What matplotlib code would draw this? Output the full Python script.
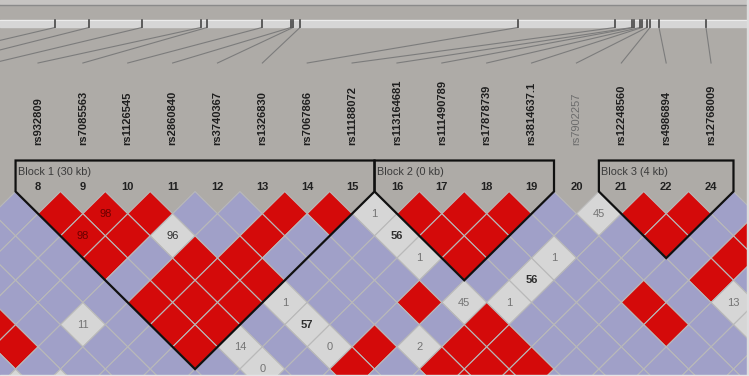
import matplotlib.pyplot as plt
from matplotlib.patches import Polygon, Rectangle

plt.rcParams['font.family'] = ['Liberation Sans', 'DejaVu Sans']

# markers shown in the LD plot (index 0 = marker 8)
marker_ids = [8, 9, 10, 11, 12, 13, 14, 15, 16, 17, 18, 19, 20, 21, 22, 24]
marker_names = ['rs932809', 'rs7085563', 'rs1126545', 'rs2860840', 'rs3740367',
                'rs1326830', 'rs7067866', 'rs11188072', 'rs113164681', 'rs111490789',
                'rs17878739', 'rs3814637.1', 'rs7902257', 'rs12248560', 'rs4986894',
                'rs12768009']
grey_marker = 'rs7902257'

# position of each marker on the chromosome bar, first three are markers left of the view
phys_first = -3
phys_x = [55, 89, 142, 201, 207, 262, 291, 293, 300, 518, 615,
          632, 634, 640, 642, 647, 650, 659, 706]

blocks = [('Block 1 (30 kb)', 0, 7), ('Block 2 (0 kb)', 8, 11), ('Block 3 (4 kb)', 13, 15)]

# LD colour per pair: (distance d, first marker index, codes for pairs (i, i+d))
# R = D'=1 / LOD>=2, L = D'=1 / LOD<2, G = D'<1 / LOD<2
ld_rows = [
    (1, -1, "LRRRLLRRGRRRLGRRLL"),
    (2, -2, "LLRRGLRLLGRRLLLRLR"),
    (3, -2, "LLRLRRLLLGRLGLLLRL"),
    (4, -3, "LLLLRRRLLLLLGLLLRL"),
    (5, -3, "LLLRRRGLLRGGLLRLGL"),
    (6, -4, "RLGLRRLGLLLRLLLRLG"),
    (7, -4, "RLLLRGLGRGRRLLLLLL"),
    (8, -5, "LLLLLLGLRLRRRLLLLL"),
    (9, -5, "GGLLLLLLLLRRLLLLLL"),
]

# D' values printed in the cells
dprime = {(1, 2): '98', (0, 2): '98', (2, 4): '96', (7, 8): '1', (12, 13): '45',
          (7, 9): '56', (7, 10): '1', (10, 13): '1', (9, 13): '56', (3, 8): '1',
          (7, 12): '45', (8, 13): '1', (13, 18): '13', (-2, 4): '11', (3, 9): '57',
          (1, 8): '14', (3, 10): '0', (5, 12): '2', (1, 9): '0'}
bold_labels = [(7, 9), (9, 13), (3, 9)]

colors = {'R': '#d40a0a', 'L': '#a0a0c8', 'G': '#d6d6d6'}
bg = '#aeaba7'

X0, DX = 38.0, 44.87
HW, HH, Y0 = DX / 2, 22.2, 191.5


def mx(i):
    return X0 + DX * i


fig = plt.figure(figsize=(7.49, 3.76), dpi=100, facecolor=bg)
ax = fig.add_axes([0, 0, 1, 1])
ax.set_xlim(0, 749)
ax.set_ylim(376, 0)
ax.axis('off')
ax.set_facecolor(bg)

# top bar with physical positions
ax.add_patch(Rectangle((0, 0), 749, 4.3, color='#c6c4c2', zorder=1))
ax.plot([0, 749], [4.8, 4.8], color='#8a8a8a', lw=1, zorder=2)
ax.add_patch(Rectangle((0, 19.5), 749, 7.5, color='#d6d6d6', zorder=1))
ax.plot([0, 749], [20.2, 20.2], color='#ececec', lw=0.8, zorder=2)
for n, px in enumerate(phys_x):
    idx = phys_first + n
    ax.plot([px, px], [19.5, 27.3], color='#3a3a3a', lw=1.1, zorder=3)
    ax.plot([px, mx(idx)], [27.5, 63], color='#7c7c7c', lw=0.8, zorder=2)

# marker names
for i, name in enumerate(marker_names):
    if name == grey_marker:
        ax.text(mx(i), 145, name, rotation=90, ha='center', va='bottom',
                fontsize=8, color='#6c6c6c')
    else:
        ax.text(mx(i), 145, name, rotation=90, ha='center', va='bottom',
                fontsize=8, fontweight='bold', color='#1e1e1e')

# LD diamonds
for d, start, codes in ld_rows:
    for n, c in enumerate(codes):
        i = start + n
        j = i + d
        cx = (mx(i) + mx(j)) / 2
        cy = Y0 + HH * d
        pts = [(cx, cy - HH), (cx + HW, cy), (cx, cy + HH), (cx - HW, cy)]
        ax.add_patch(Polygon(pts, closed=True, facecolor=colors[c],
                             edgecolor='#b9b9b9', lw=0.8, zorder=2))
        lab = dprime.get((i, j))
        if lab:
            if c == 'R':
                col = '#6a0000'
            elif (i, j) in bold_labels or lab == '96':
                col = '#2e2e2e'
            else:
                col = '#747474'
            ax.text(cx, cy, lab, ha='center', va='center', fontsize=8, color=col,
                    fontweight='bold' if (i, j) in bold_labels else 'normal', zorder=4)

# haplotype blocks
for title, a, b in blocks:
    left = mx(a) - HW
    right = mx(b) + HW
    apex = ((mx(a) + mx(b)) / 2, Y0 + HH * (b - a + 1))
    outline = [(left, 160.5), (right, 160.5), (right, Y0), apex, (left, Y0)]
    ax.add_patch(Polygon(outline, closed=True, fill=False, edgecolor='#101010',
                         lw=1.6, zorder=5, joinstyle='miter'))
    ax.text(left + 2, 172, title, ha='left', va='center', fontsize=7.8, color='#3a3a3a')

# marker numbers above the diamonds
for i, m in enumerate(marker_ids):
    ax.text(mx(i), 187, str(m), ha='center', va='center', fontsize=8,
            fontweight='bold', color='#202020', zorder=6)

# panel edges
ax.add_patch(Rectangle((746.5, 0), 3, 376, color='#dedede', zorder=7))
ax.add_patch(Rectangle((0, 374.5), 749, 2, color='#e6e6e6', zorder=7))

fig.savefig('out.png', dpi=100, facecolor=bg)
